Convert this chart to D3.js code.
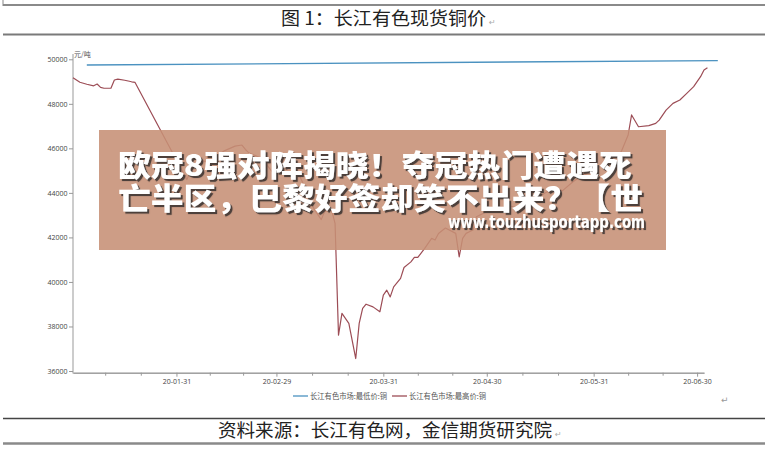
<!DOCTYPE html>
<html><head><meta charset="utf-8">
<script src="https://cdn.jsdelivr.net/npm/d3@7"></script>
<style>body{margin:0;background:#fff;} svg{display:block}</style>
</head><body>
<svg id="c" width="765" height="450"></svg>
<script>
// ---------------- data ----------------
const titleText = "图 1：长江有色现货铜价";
const sourceText = "资料来源：长江有色网，金信期货研究院";
const unitLabel = "元/吨";
const seriesNames = ["长江有色市场:最低价:铜", "长江有色市场:最高价:铜"];
const yTicks = [36000, 38000, 40000, 42000, 44000, 46000, 48000, 50000];
const xTickLabels = ["20-01-31", "20-02-29", "20-03-31", "20-04-30", "20-05-31", "20-06-30"];

const lowDates = ["2020-01-05", "2020-07-06"];
const lowValues = [49745, 49945];

const highDates = [
  "2020-01-01","2020-01-03","2020-01-05","2020-01-07","2020-01-08","2020-01-09","2020-01-10",
  "2020-01-12","2020-01-13","2020-01-14","2020-01-16","2020-01-18","2020-01-19",
  "2020-02-03","2020-02-04","2020-02-05","2020-02-07","2020-02-10","2020-02-12","2020-02-14",
  "2020-02-17","2020-02-19","2020-02-20","2020-02-21","2020-02-24","2020-02-26","2020-02-28",
  "2020-03-02","2020-03-04","2020-03-06","2020-03-09","2020-03-10","2020-03-11","2020-03-13",
  "2020-03-14","2020-03-16","2020-03-17","2020-03-18","2020-03-19","2020-03-21","2020-03-23",
  "2020-03-24","2020-03-25","2020-03-26","2020-03-28","2020-03-30","2020-03-31","2020-04-01",
  "2020-04-02","2020-04-03","2020-04-05","2020-04-06","2020-04-08","2020-04-09","2020-04-10",
  "2020-04-12","2020-04-14","2020-04-15","2020-04-16","2020-04-18","2020-04-21","2020-04-22",
  "2020-04-23","2020-04-24","2020-04-26","2020-04-27","2020-04-29","2020-05-01","2020-05-04",
  "2020-05-07","2020-05-10","2020-05-13","2020-05-16","2020-05-19","2020-05-22","2020-05-25",
  "2020-05-28","2020-05-31","2020-06-03","2020-06-06","2020-06-08","2020-06-10","2020-06-11",
  "2020-06-13","2020-06-16","2020-06-18","2020-06-19","2020-06-21","2020-06-23","2020-06-25",
  "2020-06-27","2020-06-29","2020-07-01","2020-07-02","2020-07-03"
];
const highValues = [
  49170,48970,48880,48810,48890,48740,48700,
  48700,49070,49110,49060,48990,48960,
  44600,44900,45300,45500,45300,45700,45900,
  46100,46150,45950,45800,45600,45300,44900,
  45100,45400,45000,44000,43600,43250,42800,
  43170,43230,42630,37610,38590,38140,36560,
  38140,38810,39000,38880,38660,39410,39630,
  39330,39780,40160,40650,40900,41100,41100,
  41510,41960,41880,42180,42420,42180,41130,
  41960,42180,42330,42930,43080,43230,43200,
  43400,43300,43700,43900,44200,44100,44500,
  44800,45000,45300,45600,45850,46600,47500,
  46970,47020,47120,47270,47720,48020,48170,
  48470,48770,49220,49520,49620
];

const bannerLines = ["欧冠8强对阵揭晓！夺冠热门遭遇死", "亡半区，巴黎好签却笑不出来？【世"];
const bannerUrl = "www.touzhusportapp.com";

// ---------------- drawing ----------------
const svg = d3.select("#c");
const parse = d3.utcParse("%Y-%m-%d");
const parseTick = d3.utcParse("%y-%m-%d");
const fmtTick = d3.utcFormat("%y-%m-%d");
const cjk = "'Noto Sans CJK SC','Noto Sans',sans-serif";

const defs = svg.append("defs");
const f1 = defs.append("filter").attr("id", "sh1").attr("x", "-5%").attr("y", "-20%").attr("width", "110%").attr("height", "150%");
f1.append("feDropShadow").attr("dx", 2.1).attr("dy", 2.1).attr("stdDeviation", 0.3).attr("flood-color", "#4d3f3a").attr("flood-opacity", 1);

const x = d3.scaleUtc().domain([parse("2020-01-01"), parse("2020-07-02")]).range([73, 704]);
const y = d3.scaleLinear().domain([36000, 50000]).range([371, 59.3]);

// page decorations
svg.append("path").attr("d", "M3,0V6").attr("stroke", "#888").attr("stroke-width", 1);
svg.append("line").attr("x1", 3).attr("x2", 765).attr("y1", 5).attr("y2", 5).attr("stroke", "#8a8a8a").attr("stroke-width", 2);
svg.append("line").attr("x1", 3).attr("x2", 765).attr("y1", 34.5).attr("y2", 34.5).attr("stroke", "#7a7a7a").attr("stroke-width", 2);
svg.append("line").attr("x1", 3).attr("x2", 765).attr("y1", 418.5).attr("y2", 418.5).attr("stroke", "#444").attr("stroke-width", 1.5);
svg.append("line").attr("x1", 3).attr("x2", 765).attr("y1", 443.5).attr("y2", 443.5).attr("stroke", "#8a8a8a").attr("stroke-width", 2.5);

svg.append("text").attr("x", 281).attr("y", 25).attr("font-family", cjk).attr("font-size", 18)
  .attr("fill", "#222").attr("textLength", 205).attr("lengthAdjust", "spacingAndGlyphs").text(titleText);
svg.append("text").attr("x", 489).attr("y", 25).attr("font-family", "DejaVu Sans").attr("font-size", 8).attr("fill", "#aaa").text("↵");

svg.append("text").attr("x", 218).attr("y", 437).attr("font-family", cjk).attr("font-size", 18)
  .attr("fill", "#222").attr("textLength", 334).attr("lengthAdjust", "spacingAndGlyphs").text(sourceText);
svg.append("text").attr("x", 555).attr("y", 437).attr("font-family", "DejaVu Sans").attr("font-size", 8).attr("fill", "#aaa").text("↵");
svg.append("text").attr("x", 721).attr("y", 403).attr("font-family", "DejaVu Sans").attr("font-size", 9).attr("fill", "#999").text("↵");

// axes
const majors = xTickLabels.map(parseTick);
const minors = [];
majors.forEach(m => {
  const prev = d3.utcDay.offset(d3.utcMonth.floor(m), -1);
  const span = m - prev;
  minors.push(new Date(+prev + span / 3), new Date(+prev + 2 * span / 3));
});

const gx = svg.append("g").attr("transform", "translate(0,372.7)");
gx.call(d3.axisBottom(x).tickValues(minors).tickFormat("").tickSize(3).tickSizeOuter(0));
const gx2 = svg.append("g").attr("transform", "translate(0,372.7)");
gx2.call(d3.axisBottom(x).tickValues(majors).tickFormat(fmtTick).tickSize(4).tickPadding(2).tickSizeOuter(0));
[gx, gx2].forEach(g => {
  g.select(".domain").attr("stroke", "#999");
  g.selectAll(".tick line").attr("stroke", "#999");
  g.selectAll("text").attr("font-family", "'Open Sans',sans-serif").attr("font-size", 7).attr("fill", "#444");
});

const gy = svg.append("g").attr("transform", "translate(73,0)");
gy.call(d3.axisLeft(y).tickValues(yTicks).tickFormat(d3.format("d")).tickSize(4).tickPadding(1.5).tickSizeOuter(0));
gy.select(".domain").remove();
gy.selectAll(".tick line").attr("stroke", "#999");
gy.selectAll("text").attr("font-family", "'Open Sans',sans-serif").attr("font-size", 7).attr("fill", "#444");
svg.append("line").attr("x1", 73).attr("x2", 73).attr("y1", 54).attr("y2", 373.5).attr("stroke", "#999").attr("stroke-width", 1);

svg.append("text").attr("x", 74).attr("y", 57).attr("font-family", cjk).attr("font-size", 7).attr("fill", "#555").text(unitLabel);

// series
const line = d3.line().x(d => x(d[0])).y(d => y(d[1]));
const lowData = lowDates.map((d, i) => [parse(d), lowValues[i]]);
const highData = highDates.map((d, i) => [parse(d), highValues[i]]);
const colors = ["#4b92c0", "#9c4c55"];
svg.append("path").datum(lowData).attr("d", line).attr("fill", "none").attr("stroke", colors[0]).attr("stroke-width", 1.3);
svg.append("path").datum(highData).attr("d", line).attr("fill", "none").attr("stroke", colors[1]).attr("stroke-width", 1.2).attr("stroke-linejoin", "round");

// legend
const legendX = [293, 392];
seriesNames.forEach((n, i) => {
  svg.append("line").attr("x1", legendX[i]).attr("x2", legendX[i] + 15).attr("y1", 396).attr("y2", 396)
    .attr("stroke", colors[i]).attr("stroke-width", 1.3);
  svg.append("text").attr("x", legendX[i] + 17).attr("y", 399).attr("font-family", cjk).attr("font-size", 7.5)
    .attr("fill", "#555").attr("textLength", 77).attr("lengthAdjust", "spacingAndGlyphs").text(n);
});

// overlay banner (one text block with three lines)
svg.append("rect").attr("x", 99).attr("y", 130).attr("width", 567).attr("height", 120)
  .attr("fill", "#c68f75").attr("opacity", 0.88);
const banner = svg.append("text").attr("fill", "#fff").attr("filter", "url(#sh1)");
const bannerY = [176, 209];
const bannerW = [514, 525];
bannerLines.forEach((t, i) => {
  banner.append("tspan").attr("x", 118).attr("y", bannerY[i]).attr("font-family", cjk)
    .attr("font-weight", 900).attr("font-size", 30)
    .attr("textLength", bannerW[i]).attr("lengthAdjust", "spacingAndGlyphs").text(t);
});
banner.append("tspan").attr("x", 448).attr("y", 228).attr("font-family", "'DejaVu Sans',sans-serif")
  .attr("font-weight", 600).attr("font-size", 17)
  .attr("textLength", 197).attr("lengthAdjust", "spacingAndGlyphs").text(bannerUrl);
</script>
</body></html>
